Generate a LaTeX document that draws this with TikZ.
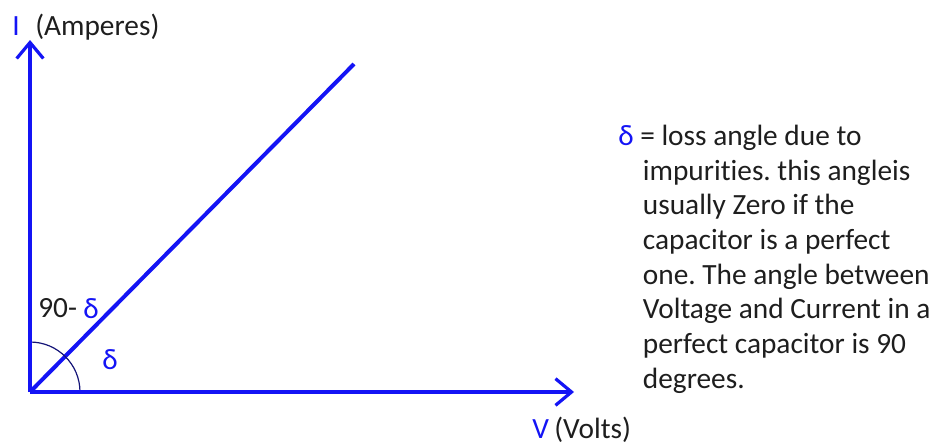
\documentclass[tikz,border=0pt]{standalone}
\usepackage{fontspec}
\setmainfont[Ligatures={NoCommon}]{Carlito}
\usetikzlibrary{arrows.meta}
\definecolor{axisblue}{RGB}{20,20,245}
\definecolor{arcblue}{RGB}{20,20,120}
\definecolor{txt}{RGB}{30,30,30}
\frenchspacing
\tikzset{
  axis/.style={draw=axisblue,line width=3pt,-{Straight Barb[length=12pt,width=20pt,line width=2.4pt]}},
  phasor/.style={draw=axisblue,line width=3pt},
  anglearc/.style={draw=arcblue,line width=0.9pt},
  lbl/.style={inner sep=0pt,text=txt,font=\fontsize{22pt}{26pt}\selectfont},
  blbl/.style={inner sep=0pt,text=axisblue,font=\fontsize{22pt}{26pt}\selectfont},
}
\begin{document}
\begin{tikzpicture}[x=0.75pt,y=-0.75pt]
\useasboundingbox (0,0) rectangle (939,446);
\coordinate (O) at (30,392);
\coordinate (Itip) at (30,40);
\coordinate (Vtip) at (574,392);
\coordinate (P) at (354,64);
\draw[phasor] (O) -- (P);
\draw[anglearc] (30,342) arc[start angle=-90,end angle=0,radius=50];
\draw[axis] (O) -- (Itip);
\draw[axis] (O) -- (Vtip);
\node[blbl,anchor=base west] (I) at (12,36) {I};
\node[lbl,anchor=base west] (amp) at (35,36) {(Amperes)};
\node[lbl,anchor=base west] (ninety) at (38,317) {90-};
\node[blbl,anchor=base west] (d1) at (83,318) {δ};
\node[blbl,anchor=base west] (d2) at (102,369) {δ};
\node[blbl,anchor=base west] (V) at (532,438) {V};
\node[lbl,anchor=base west] (volts) at (554,438) {(Volts)};
\node[blbl,anchor=base west] (d3) at (618,145) {δ};
\node[lbl,anchor=base west,align=left] (txt) at (640,388) {= loss angle due to\\
\hspace*{2pt}impurities. this angleis\\
\hspace*{2pt}usually Zero if the\\
\hspace*{2pt}capacitor is a perfect\\
\hspace*{2pt}one. The angle between\\
\hspace*{2pt}Voltage and Current in a\\
\hspace*{2pt}perfect capacitor is 90\\
\hspace*{2pt}degrees.};
\end{tikzpicture}
\end{document}
